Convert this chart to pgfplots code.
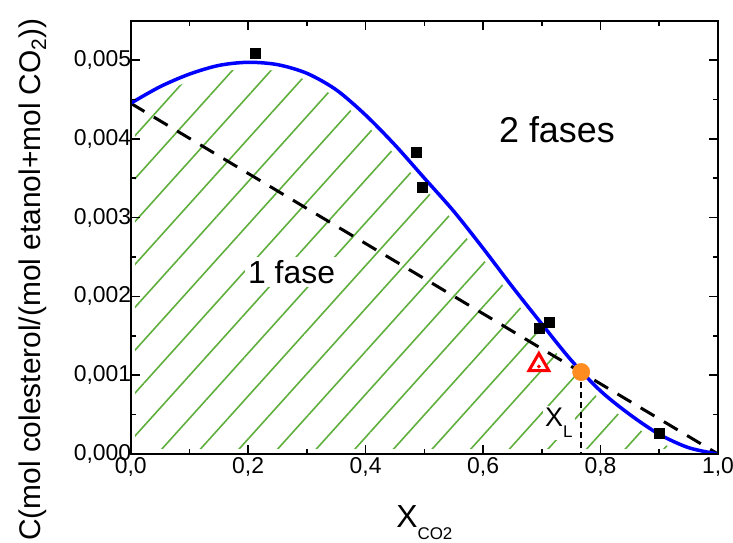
\documentclass[border=0pt]{standalone}
\usepackage{fontspec}
\setmainfont{Liberation Sans}
\usepackage{pgfplots}
\pgfplotsset{compat=1.18}
\usetikzlibrary{patterns.meta}
\definecolor{hatchgreen}{RGB}{95,175,60}
\definecolor{ptorange}{RGB}{255,140,30}
\pgfplotstableread{
x y
0.00 0.00445
0.05 0.00466
0.10 0.00482
0.15 0.00493
0.20 0.00497
0.25 0.00494
0.30 0.00483
0.35 0.00462
0.40 0.00430
0.45 0.00392
0.50 0.00350
0.55 0.00308
0.60 0.00261
0.65 0.00212
0.70 0.00165
0.75 0.00119
0.80 0.00080
0.85 0.00050
0.90 0.00025
0.95 0.00008
1.00 0.00000
}\curvedata
\pgfplotstableread{
x y
0.212 0.00508
0.486 0.00383
0.497 0.00338
0.696 0.00159
0.713 0.00167
0.900 0.00026
}\squares
\begin{document}
\begin{tikzpicture}
\useasboundingbox (-130.7bp,-89bp) rectangle (602.3bp,454bp);
\begin{axis}[
  scale only axis, width=587.3bp, height=433.5bp,
  xmin=0, xmax=1, ymin=0, ymax=0.0055,
  xtick={0,0.2,0.4,0.6,0.8,1.0}, minor x tick num=1,
  ytick={0,0.001,0.002,0.003,0.004,0.005}, minor y tick num=1,
  scaled y ticks=false,
  tick align=inside, tick pos=both,
  major tick length=9bp, minor tick length=5bp,
  axis line style={line width=2bp},
  every tick/.style={line width=1.6bp, black},
  axis on top,
  /pgf/number format/assume math mode=true,
  ticklabel style={font=\fontsize{23}{23}\selectfont},
  xticklabel style={/pgf/number format/.cd, fixed, fixed zerofill, precision=1, use comma},
  yticklabel style={xshift=4bp, /pgf/number format/.cd, fixed, fixed zerofill, precision=3, use comma},
  xlabel={\fontsize{32}{32}\selectfont X\raisebox{-12bp}{\fontsize{17}{17}\selectfont CO2}},
  xlabel style={at={(axis description cs:0.5,0)}, anchor=base, yshift=-73bp},
  ylabel={\fontsize{30}{30}\selectfont C(mol colesterol/(mol etanol+mol CO\textsubscript{2}))},
  ylabel style={at={(axis description cs:-0.1544,0.4025)}, anchor=base},
]
% hatched one-phase region
\addplot[draw=none, pattern={Lines[angle=48,distance=28.7bp,line width=1.6bp]}, pattern color=hatchgreen, smooth] table[x=x,y=y] {\curvedata} \closedcycle;
% white gaps along the boundaries
\addplot[white, line width=13bp, smooth] table[x=x,y=y] {\curvedata};
\addplot[white, line width=10bp] coordinates {(0,0) (1,0)};
\addplot[white, line width=8bp] coordinates {(0,0) (0,0.0046)};
% dashed straight line
\addplot[black, line width=3bp, dash pattern=on 16bp off 11bp] coordinates {(0,0.00445) (1,0)};
% blue solubility curve
\addplot[blue, line width=3.5bp, smooth] table[x=x,y=y] {\curvedata};
% experimental points
\addplot[only marks, mark=square*, mark size=5bp, black] table[x=x,y=y] {\squares};
% red triangle
\addplot[only marks, mark=triangle*, mark size=11.5bp, mark options={draw=red, fill=white, line width=3bp}] coordinates {(0.695,0.00113)};
\addplot[only marks, mark=*, mark size=1.8bp, red] coordinates {(0.695,0.00111)};
% vertical dotted line and XL point
\addplot[black, line width=2.5bp, dash pattern=on 6bp off 4bp] coordinates {(0.767,0.00104) (0.767,0)};
\addplot[only marks, mark=*, mark size=8.7bp, mark options={draw=ptorange, fill=ptorange}] coordinates {(0.767,0.00104)};
% texts
\node[anchor=base west, fill=white, inner sep=3bp, font=\fontsize{32}{32}\selectfont] at (axis cs:0.1946,0.002166) {1 fase};
\node[anchor=base west, inner sep=0pt, font=\fontsize{36}{36}\selectfont] at (axis cs:0.627,0.003947) {2 fases};
\node[anchor=base west, fill=white, inner sep=2bp, font=\fontsize{27}{27}\selectfont] at (axis cs:0.702,0.000343) {X\raisebox{-11bp}{\fontsize{17}{17}\selectfont L}};
\end{axis}
\end{tikzpicture}
\end{document}
